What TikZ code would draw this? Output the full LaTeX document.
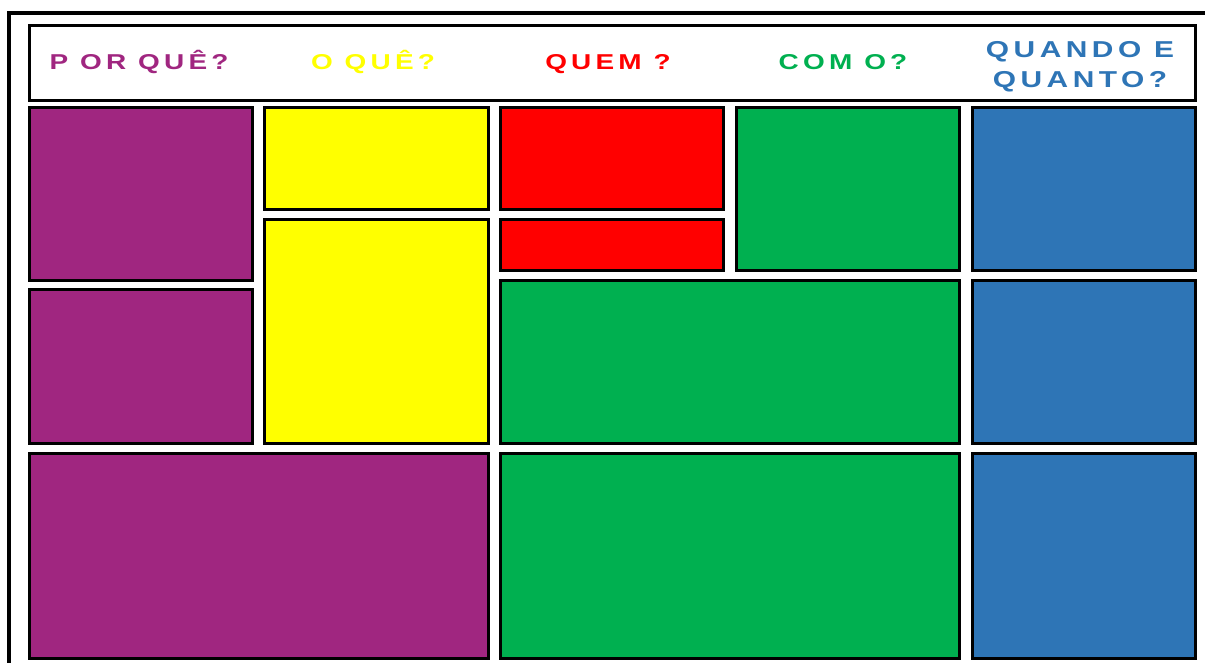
\documentclass[tikz,border=0pt]{standalone}
\usepackage{fontspec}
\usepackage{graphicx}
\newfontfamily\titlefont[LetterSpace=15]{Liberation Sans}
\definecolor{cpurple}{HTML}{A02680}
\definecolor{cyellow}{HTML}{FFFF00}
\definecolor{cred}{HTML}{FF0000}
\definecolor{cgreen}{HTML}{00B050}
\definecolor{cblue}{HTML}{2E75B6}
\newcommand{\sx}[1]{\scalebox{1.3}[1]{#1}}
\begin{document}
\begin{tikzpicture}[x=1pt,y=-1pt,
  cellbox/.style={draw=black, line width=3pt},
  framebox/.style={draw=black, line width=4pt},
  title/.style={inner sep=0pt, anchor=base, font=\titlefont\bfseries\fontsize{21.5}{24}\selectfont},
  bigtitle/.style={inner sep=0pt, align=center, font=\titlefont\bfseries\fontsize{23}{30}\selectfont}]
\useasboundingbox (0,0) rectangle (1205,662);
\clip (0,0) rectangle (1205,662);
% outer frame (runs off the page right and bottom)
\draw[framebox] (1220,13) -- (9,13) -- (9,680);
% header
\draw[cellbox, fill=white] (29.5,25.5) rectangle (1195,100);
% cells (outer edges inset by half the line width)
\newcommand{\cell}[5]{\draw[cellbox, fill=#1] (#2+1.5,#3+1.5) rectangle (#4-1.5,#5-1.5);}
\cell{cpurple}{28}{105.5}{253.5}{282}
\cell{cyellow}{263}{105.5}{489.5}{211}
\cell{cyellow}{263}{217.5}{489.5}{445}
\cell{cred}{498.5}{105.5}{725}{210.5}
\cell{cred}{498.5}{217.5}{725}{271.5}
\cell{cgreen}{734.5}{105.5}{961}{272}
\cell{cblue}{970.5}{105.5}{1196.5}{272}
\cell{cpurple}{28}{288}{253.5}{445}
\cell{cgreen}{498.5}{278.5}{961}{445}
\cell{cblue}{970.5}{278.5}{1196.5}{445}
\cell{cpurple}{28}{451.5}{489.5}{659.5}
\cell{cgreen}{498.5}{451.5}{961}{659.5}
\cell{cblue}{970.5}{451.5}{1196.5}{659.5}
% titles
\node[title, text=cpurple] (t1) at (139,69.5) {\sx{P OR QUÊ?}};
\node[title, text=cyellow] (t2) at (373,69.5) {\sx{O QUÊ?}};
\node[title, text=cred] (t3) at (608,69.5) {\sx{QUEM ?}};
\node[title, text=cgreen] (t4) at (843,69.5) {\sx{COM O?}};
\node[bigtitle, text=cblue] (t5) at (1080,66.3) {\sx{QUANDO E}\\\sx{QUANTO?}};
\end{tikzpicture}
\end{document}
